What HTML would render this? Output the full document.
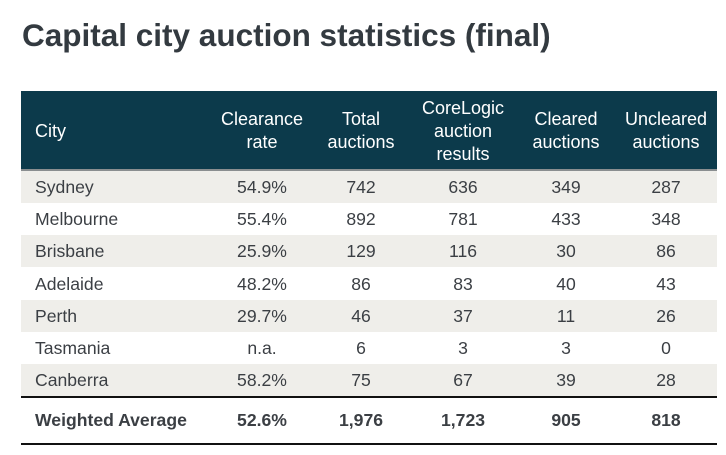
<!DOCTYPE html>
<html><head><meta charset="utf-8"><style>
body{margin:0;width:726px;height:455px;background:#fff;font-family:"Liberation Sans",Arial,sans-serif;position:relative;overflow:hidden}
.t{position:absolute;left:22px;top:17px;font-size:31.5px;font-weight:bold;color:#333a40}
.hdr{position:absolute;left:21px;top:91px;width:696px;height:78px;background:#0c3a4b}
.gl{position:absolute;left:21px;top:169px;width:696px;height:2px;background:#8a8e90}
.row{position:absolute;left:21px;width:696px;height:32px}
.c{position:absolute;text-align:center;transform:translateX(-50%);white-space:nowrap;font-size:17.6px;color:#3b3f44}
.h{color:#fff;font-size:18px;line-height:23px}
.line{position:absolute;left:21px;width:696px;height:2px;background:#111}
</style></head><body>
<div class="t">Capital city auction statistics (final)</div>
<div class="hdr"></div>
<div class="gl"></div>
<div id="tbl"></div>
<div class="line" style="top:396px"></div>
<div class="line" style="top:443px"></div>
<script>
const headers=[["City"],["Clearance","rate"],["Total","auctions"],["CoreLogic","auction","results"],["Cleared","auctions"],["Uncleared","auctions"]];
const cities=["Sydney","Melbourne","Brisbane","Adelaide","Perth","Tasmania","Canberra"];
const rates=["54.9%","55.4%","25.9%","48.2%","29.7%","n.a.","58.2%"];
const totals=["742","892","129","86","46","6","75"];
const results=["636","781","116","83","37","3","67"];
const cleared=["349","433","30","40","11","3","39"];
const uncleared=["287","348","86","43","26","0","28"];
const avg=["Weighted Average","52.6%","1,976","1,723","905","818"];
const colX=[35,262,361,463,566,666];
const body=document.body;
function cell(x,y,txt,left,extra){
  const d=document.createElement('div');
  d.className='c'+(extra||'');
  d.style.left=x+'px';d.style.top=y+'px';
  if(left)d.style.transform='none';
  d.innerHTML=txt;
  body.appendChild(d);return d;
}
headers.forEach((h,i)=>{
  const lines=h.length;
  const y=131-lines*23/2;
  const d=cell(colX[i],y,h.join('<br>'),i===0,' h');
  
  
});
const rowH=32.2;
cities.forEach((c,r)=>{
  const top=171+r*rowH;
  if(r%2===0){
    const bg=document.createElement('div');
    bg.className='row';bg.style.top=top+'px';bg.style.background='#efeeea';
    
    
    body.insertBefore(bg,body.firstChild.nextSibling);
  }
  const vals=[c,rates[r],totals[r],results[r],cleared[r],uncleared[r]];
  vals.forEach((v,i)=>{
    const d=cell(colX[i],top+6,v,i===0);
    
    
  });
});
avg.forEach((v,i)=>{
  const d=cell(colX[i],410,v,i===0);
  d.style.fontWeight='bold';
  
  
});
</script>
</body></html>
